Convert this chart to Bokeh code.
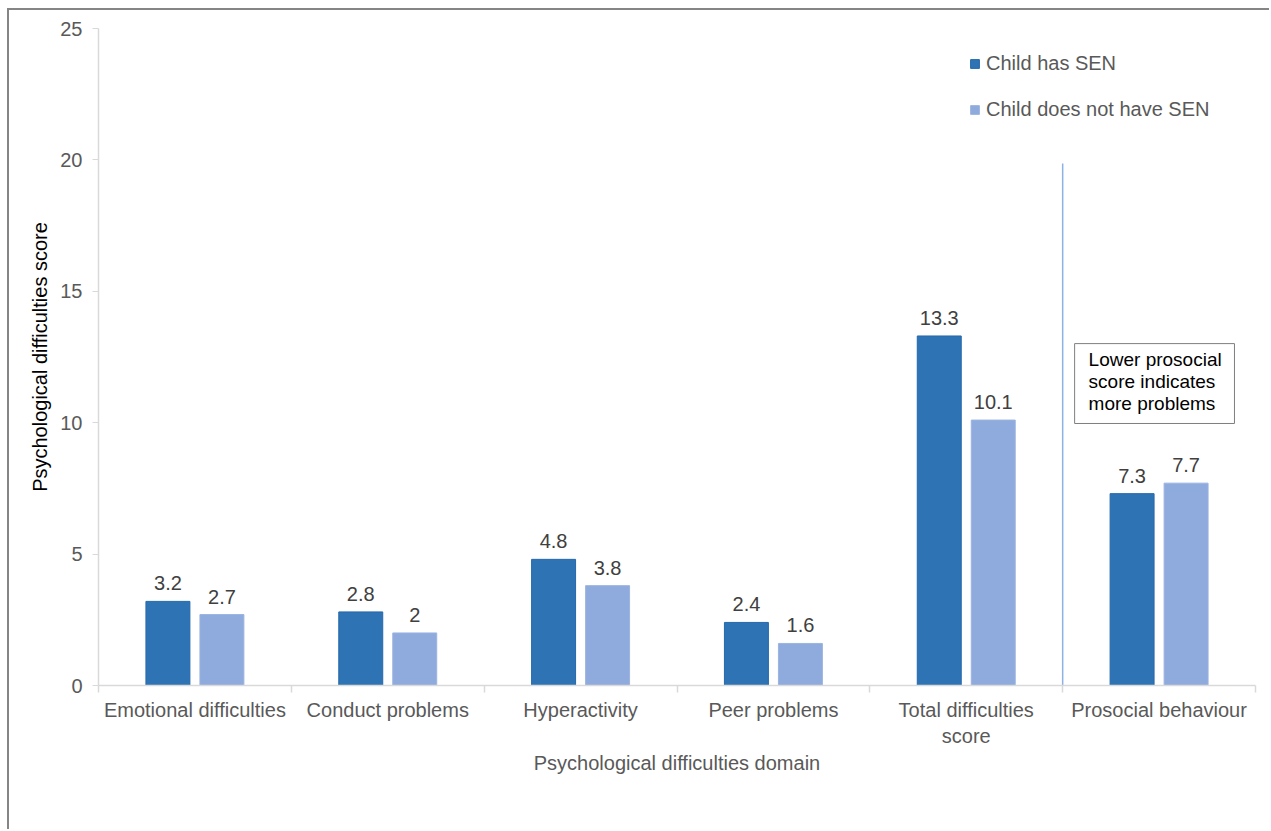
from bokeh.plotting import figure
from bokeh.models import (ColumnDataSource, FixedTicker, LinearAxis, Legend, LegendItem,
                          Range1d)
from bokeh.core.properties import value
from bokeh.embed import file_html
from bokeh.resources import INLINE

# ---- data ----
categories = ["Emotional difficulties", "Conduct problems", "Hyperactivity",
              "Peer problems", "Total difficulties\nscore", "Prosocial behaviour"]
sen_values = [3.2, 2.8, 4.8, 2.4, 13.3, 7.3]
no_sen_values = [2.7, 2.0, 3.8, 1.6, 10.1, 7.7]
series_names = ["Child has SEN", "Child does not have SEN"]
y_ticks = [0, 5, 10, 15, 20, 25]
note_text = "Lower prosocial\nscore indicates\nmore problems"
divider_index = 5          # boundary between "Total difficulties" and "Prosocial"
divider_top = 19.86

FONT = "Liberation Sans"
GREY = "#595959"
DARK = "#2E74B5"
LIGHT = "#8FAADC"

n = len(categories)
centers = [i + 0.5 for i in range(n)]
dodge = 0.14
bar_w = 0.228

src_a = ColumnDataSource(dict(x=[c - dodge for c in centers], top=sen_values,
                              lab=[f"{v:g}" for v in sen_values]))
src_b = ColumnDataSource(dict(x=[c + dodge for c in centers], top=no_sen_values,
                              lab=[f"{v:g}" for v in no_sen_values]))

p = figure(width=1262, height=821, output_backend="svg", toolbar_location=None,
           x_range=Range1d(0, n), y_range=Range1d(0, 25),
           min_border_left=89, min_border_top=18, min_border_right=16, min_border_bottom=146,
           x_axis_type=None, y_axis_type=None)
p.margin = (8, 0, 0, 7)
p.styles = {"border-left": "2px solid #858585", "border-top": "2px solid #858585"}
p.outline_line_color = None
p.background_fill_color = "white"
p.border_fill_color = "white"
p.xgrid.visible = False
p.ygrid.visible = False

# y axis
yax = LinearAxis(ticker=FixedTicker(ticks=y_ticks, minor_ticks=[]))
yax.axis_line_color = "#D9D9D9"
yax.axis_line_width = 1.5
yax.major_tick_line_color = "#D9D9D9"
yax.major_tick_out = 6
yax.major_tick_in = 0
yax.minor_tick_line_color = None
yax.major_label_text_font = FONT
yax.major_label_text_font_size = "20px"
yax.major_label_text_color = GREY
yax.major_label_standoff = 10
yax.axis_label = "Psychological difficulties score"
yax.axis_label_text_font = FONT
yax.axis_label_text_font_size = "20px"
yax.axis_label_text_font_style = "normal"
yax.axis_label_text_color = "black"
yax.axis_label_standoff = 6
p.add_layout(yax, "left")

# x axis: labels at centres, tick marks at boundaries (minor ticks)
xax = LinearAxis(ticker=FixedTicker(ticks=centers, minor_ticks=list(range(n + 1))))
xax.major_label_overrides = {c: cat for c, cat in zip(centers, categories)}
xax.axis_line_color = "#D9D9D9"
xax.axis_line_width = 1.5
xax.major_tick_line_color = None
xax.major_tick_out = 0
xax.major_tick_in = 0
xax.minor_tick_line_color = "#D9D9D9"
xax.minor_tick_line_width = 1.5
xax.minor_tick_out = 7
xax.minor_tick_in = 0
xax.major_label_text_font = FONT
xax.major_label_text_font_size = "20px"
xax.major_label_text_color = GREY
xax.major_label_standoff = 6
xax.axis_label = "Psychological difficulties domain"
xax.axis_label_text_font = FONT
xax.axis_label_text_font_size = "20px"
xax.axis_label_text_font_style = "normal"
xax.axis_label_text_color = GREY
xax.axis_label_standoff = 2
p.add_layout(xax, "below")

# bars
ra = p.vbar(x="x", top="top", width=bar_w, source=src_a, fill_color=DARK,
            line_color="#2468AC", line_width=1)
rb = p.vbar(x="x", top="top", width=bar_w, source=src_b, fill_color=LIGHT,
            line_color="#9BB4E0", line_width=1)

# value labels
for s in (src_a, src_b):
    p.text(x="x", y="top", text="lab", source=s, text_align="center",
           text_baseline="alphabetic", y_offset=-18, text_font=value(FONT),
           text_font_size="20px", text_color="#404040")

# divider line
p.segment(x0=[divider_index], y0=[0], x1=[divider_index], y1=[divider_top],
          line_color="#8DB3E2", line_width=1.5)

# note box
box_left, box_right, box_top, box_bottom = 5.062, 5.891, 13.01, 9.97
p.quad(left=[box_left], right=[box_right], top=[box_top], bottom=[box_bottom],
       fill_color="white", line_color="#7F7F7F", line_width=1)
p.text(x=[box_left], y=[box_top], text=[note_text], x_offset=14, y_offset=5,
       text_align="left", text_baseline="top", text_font=value(FONT),
       text_font_size="19px", text_color="black", text_line_height=1.05)

# legend
legend = Legend(items=[LegendItem(label=series_names[0], renderers=[ra]),
                       LegendItem(label=series_names[1], renderers=[rb])],
                location=(871, 564), orientation="vertical")
legend.label_text_font = FONT
legend.label_text_font_size = "20px"
legend.label_text_color = GREY
legend.glyph_width = 11
legend.glyph_height = 11
legend.label_height = 20
legend.label_standoff = 6
legend.spacing = 23
legend.padding = 0
legend.margin = 0
legend.border_line_color = None
legend.background_fill_alpha = 0
p.add_layout(legend)

open("out.html", "w").write(file_html(p, INLINE))
